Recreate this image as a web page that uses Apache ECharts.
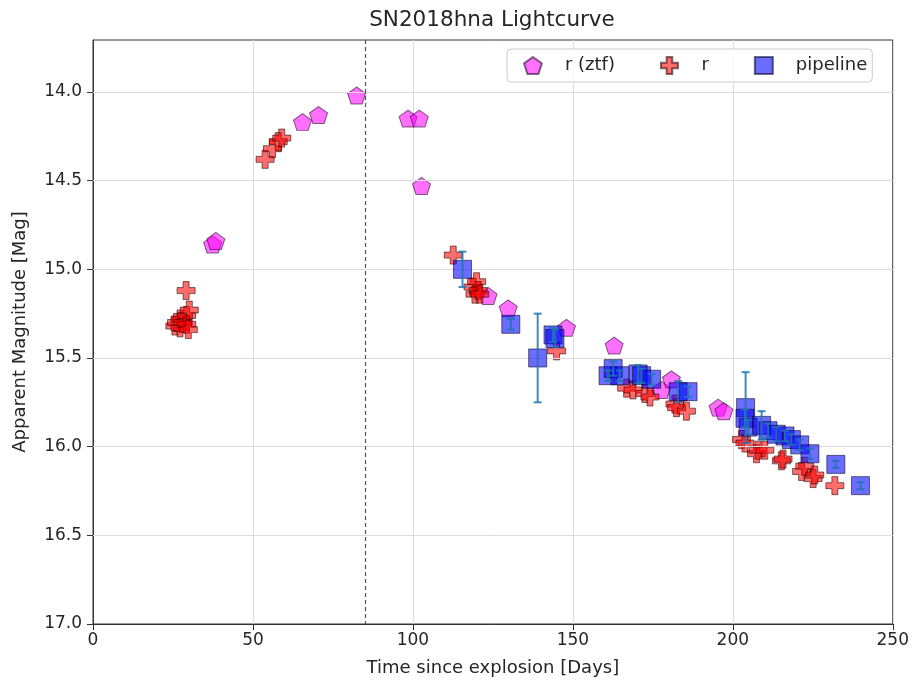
<!DOCTYPE html>
<html>
<head>
<meta charset="utf-8">
<title>SN2018hna Lightcurve</title>
<script src="https://cdn.jsdelivr.net/npm/echarts@6/dist/echarts.min.js"></script>
<style>
  html, body { margin: 0; padding: 0; background: #ffffff; }
  #chart { width: 912px; height: 684px; }
</style>
</head>
<body>
<div id="chart"></div>
<script>
// ZTF r-band photometry (days since explosion, apparent magnitude)
const ztfDays = [37.4, 38.4, 65.5, 70.5, 82.4, 98.5, 102.0, 102.7, 123.5, 129.8, 148.0, 162.9, 177.7, 180.8, 195.4, 197.2];
const ztfMag  = [14.86, 14.84, 14.17, 14.13, 14.02, 14.15, 14.15, 14.53, 15.15, 15.22, 15.33, 15.43, 15.68, 15.62, 15.78, 15.80];

// r-band photometry
const rDays = [25.6, 26.1, 27.2, 27.2, 28.2, 29.1, 29.3, 29.3, 29.8, 30.1,
               53.8, 56.1, 57.9, 59.0,
               112.6, 118.8, 119.4, 119.9, 120.4, 120.9, 144.9,
               166.8, 168.8, 172.5, 174.1, 181.9, 182.4, 185.5,
               202.7, 203.8, 207.4, 207.9, 210.0, 215.2, 215.7, 221.5, 222.5, 225.1, 225.6, 231.9];
const rMag  = [15.32, 15.30, 15.28, 15.33, 15.30, 15.12, 15.26, 15.31, 15.34, 15.23,
               14.38, 14.32, 14.28, 14.26,
               14.92, 15.10, 15.14, 15.07, 15.12, 15.14, 15.46,
               15.67, 15.68, 15.70, 15.72, 15.76, 15.78, 15.80,
               15.96, 15.98, 16.04, 16.02, 16.02, 16.08, 16.07, 16.14, 16.11, 16.18, 16.16, 16.22];

// pipeline photometry with 1-sigma uncertainties
const pipeDays = [115.5, 130.6, 139.0, 143.8, 144.4,
                  161.0, 162.6, 164.7, 170.4, 171.5, 174.6, 182.9, 186.0,
                  204.0, 203.8, 204.8, 209.0, 211.0, 213.6, 216.3, 218.3, 220.9, 224.1, 232.2, 239.9];
const pipeMag  = [15.00, 15.31, 15.50, 15.37, 15.39,
                  15.60, 15.56, 15.60, 15.59, 15.60, 15.62, 15.69, 15.69,
                  15.78, 15.84, 15.89, 15.88, 15.91, 15.93, 15.94, 15.96, 15.99, 16.04, 16.10, 16.22];
const pipeErr  = [0.10, 0.03, 0.25, 0.04, 0.05,
                  0.03, 0.04, 0.03, 0.05, 0.04, 0.03, 0.06, 0.03,
                  0.20, 0.05, 0.04, 0.08, 0.04, 0.04, 0.03, 0.03, 0.03, 0.03, 0.02, 0.02];

// axis ticks and the reference epoch marker
const dayTicks = [0, 50, 100, 150, 200, 250];
const magTicks = [14.0, 14.5, 15.0, 15.5, 16.0, 16.5, 17.0];
const peakDay = 85;

const FONT = 'DejaVu Sans';
const TEXT = '#262626';
const GRID_LINE = '#dcdcdc';
const ERR_COLOR = 'rgba(31,119,180,0.85)';

const pentagon = 'path://M0,-1L0.951,-0.309L0.588,0.809L-0.588,0.809L-0.951,-0.309Z';
const plus = 'path://M2,0H4V2H6V4H4V6H2V4H0V2H2Z';

const zip = (a, b) => a.map((v, i) => [v, b[i]]);
const pipeRows = pipeDays.map((d, i) => [d, pipeMag[i], pipeErr[i]]);

const chart = echarts.init(document.getElementById('chart'), null, { renderer: 'canvas' });

chart.setOption({
  animation: false,
  backgroundColor: '#ffffff',
  textStyle: { fontFamily: FONT },
  graphic: [{
    type: 'text',
    x: 492, y: 20,
    style: {
      text: 'SN2018hna Lightcurve',
      fontFamily: FONT, fontSize: 21.5, fill: TEXT,
      textAlign: 'center', textVerticalAlign: 'middle'
    }
  }],
  grid: {
    left: 93, top: 40, width: 800, height: 584,
    show: true, borderColor: '#333333', borderWidth: 1, backgroundColor: 'transparent'
  },
  legend: {
    data: ['r (ztf)', 'r', 'pipeline'],
    left: 507, top: 49,
    orient: 'horizontal',
    itemWidth: 18, itemHeight: 17, itemGap: 45,
    padding: [7, 5, 7, 16],
    borderColor: '#cccccc', borderWidth: 1, borderRadius: 4,
    backgroundColor: 'rgba(255,255,255,0.85)',
    textStyle: { fontFamily: FONT, fontSize: 18, color: TEXT, padding: [0, 0, 0, 18] }
  },
  xAxis: {
    type: 'value',
    min: dayTicks[0], max: dayTicks[dayTicks.length - 1], interval: 50,
    name: 'Time since explosion [Days]',
    nameLocation: 'middle', nameGap: 35,
    nameTextStyle: { fontFamily: FONT, fontSize: 18, color: TEXT },
    axisLine: { show: true, lineStyle: { color: '#333333', width: 1 } },
    axisTick: { show: true, inside: false, length: 6, lineStyle: { color: '#333333' } },
    axisLabel: { fontFamily: FONT, fontSize: 17, color: TEXT, margin: 8 },
    splitLine: { show: true, lineStyle: { color: GRID_LINE, width: 1 } }
  },
  yAxis: {
    type: 'value',
    inverse: true,
    min: 13.707, max: 17.0,
    name: 'Apparent Magnitude [Mag]',
    nameLocation: 'middle', nameGap: 64, nameRotate: 90,
    nameTextStyle: { fontFamily: FONT, fontSize: 18, color: TEXT },
    axisLine: { show: true, lineStyle: { color: '#333333', width: 1 } },
    axisTick: { show: true, inside: false, length: 6, customValues: magTicks, lineStyle: { color: '#333333' } },
    axisLabel: {
      fontFamily: FONT, fontSize: 17, color: TEXT, margin: 11,
      customValues: magTicks,
      formatter: v => Number(v).toFixed(1)
    },
    splitLine: { show: false }
  },
  series: [
    {
      // horizontal grid lines at the magnitude ticks, plus the dashed epoch line
      name: 'guides',
      type: 'line',
      data: [],
      silent: true,
      z: 1,
      markLine: {
        silent: true,
        symbol: 'none',
        label: { show: false },
        animation: false,
        data: magTicks.filter(v => v < 17).map(v => ({
          yAxis: v, lineStyle: { color: GRID_LINE, width: 1, type: 'solid' }
        })).concat([{
          xAxis: peakDay, lineStyle: { color: '#555555', width: 1.2, type: [4, 3] }
        }])
      }
    },
    {
      name: 'r (ztf)',
      type: 'scatter',
      data: zip(ztfDays, ztfMag),
      symbol: pentagon,
      symbolSize: [18, 17],
      z: 3,
      itemStyle: { color: 'rgba(255,0,255,0.7)', borderColor: 'rgba(30,0,30,0.7)', borderWidth: 1 }
    },
    {
      name: 'r',
      type: 'scatter',
      data: zip(rDays, rMag),
      symbol: plus,
      symbolSize: 18,
      z: 4,
      itemStyle: { color: 'rgba(255,0,0,0.72)', borderColor: 'rgba(30,0,0,0.7)', borderWidth: 1 }
    },
    {
      name: 'pipeline',
      type: 'scatter',
      data: pipeRows.map(r => [r[0], r[1]]),
      symbol: 'rect',
      symbolSize: 18,
      z: 5,
      itemStyle: { color: 'rgba(0,0,255,0.72)', borderColor: 'rgba(0,0,30,0.7)', borderWidth: 1 }
    },
    {
      name: 'pipeline errors',
      type: 'custom',
      data: pipeRows,
      encode: { x: 0, y: 1 },
      z: 6,
      silent: true,
      renderItem: function (params, api) {
        const x = api.value(0), y = api.value(1), e = api.value(2);
        const top = api.coord([x, y - e]);
        const bot = api.coord([x, y + e]);
        const cap = 4;
        const style = { stroke: ERR_COLOR, lineWidth: 2, fill: null };
        return {
          type: 'group',
          children: [
            { type: 'line', shape: { x1: top[0], y1: top[1], x2: bot[0], y2: bot[1] }, style: style },
            { type: 'line', shape: { x1: top[0] - cap, y1: top[1], x2: top[0] + cap, y2: top[1] }, style: style },
            { type: 'line', shape: { x1: bot[0] - cap, y1: bot[1], x2: bot[0] + cap, y2: bot[1] }, style: style }
          ]
        };
      }
    }
  ]
});
</script>
</body>
</html>
